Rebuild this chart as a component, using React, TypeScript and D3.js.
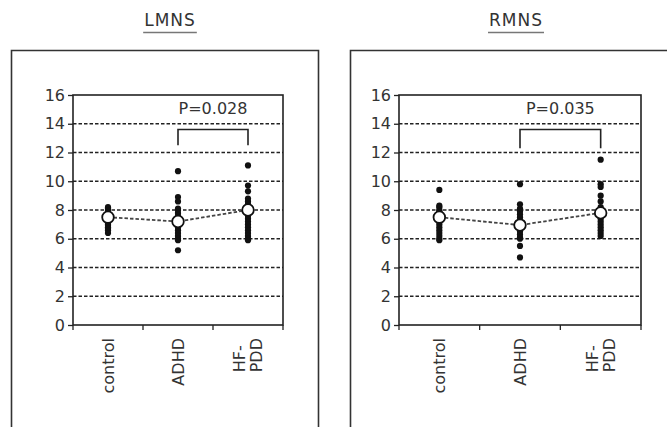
import { useEffect, useRef } from 'react';
import * as d3 from 'd3';

// groups and axis ticks
const groups = ['control', 'ADHD', 'HF-PDD'];
const yTicks = [0, 2, 4, 6, 8, 10, 12, 14, 16];
const gridTicks = [2, 4, 6, 8, 10, 12, 14];

// individual values
const lmnsControl = [8.2, 8.1, 8.0, 7.9, 7.8, 7.7, 7.6, 7.5, 7.3, 7.2, 7.1, 7.0, 6.9, 6.8, 6.7, 6.6, 6.4];
const lmnsAdhd = [10.7, 8.9, 8.6, 8.1, 8.0, 7.8, 7.6, 7.5, 7.3, 7.1, 7.0, 6.8, 6.6, 6.4, 6.2, 6.0, 5.9, 5.2];
const lmnsHfpdd = [11.1, 9.7, 9.3, 8.8, 8.6, 8.4, 8.2, 8.0, 7.8, 7.6, 7.4, 7.2, 7.0, 6.8, 6.6, 6.4, 6.2, 6.0, 5.9];
const lmnsMeans = [7.5, 7.2, 8.0];

const rmnsControl = [9.4, 8.3, 8.2, 8.0, 7.9, 7.8, 7.6, 7.4, 7.2, 7.0, 6.8, 6.6, 6.4, 6.2, 6.0, 5.9];
const rmnsAdhd = [9.8, 8.4, 8.1, 7.9, 7.7, 7.5, 7.3, 7.1, 6.9, 6.7, 6.5, 6.3, 6.1, 6.0, 5.5, 4.7];
const rmnsHfpdd = [11.5, 9.8, 9.6, 9.0, 8.6, 8.2, 8.0, 7.8, 7.6, 7.4, 7.2, 7.0, 6.8, 6.6, 6.4, 6.2];
const rmnsMeans = [7.5, 6.95, 7.8];

// significance brackets (ADHD vs HF-PDD)
const lmnsBracket = [12.5, 13.6];
const rmnsBracket = [12.3, 13.6];
const lmnsP = 'P=0.028';
const rmnsP = 'P=0.035';

const W = 667;
const H = 427;
const FONT = '"DejaVu Sans", sans-serif';
const INK = '#222';

function drawPanel(svg, cfg) {
  const { title, box, plot, values, means, bracket, pText } = cfg;
  const g = svg.append('g');

  const x = d3.scaleBand().domain(groups).range(plot).padding(0);
  const y = d3.scaleLinear().domain([0, 16]).range([325, 95]);
  const cx = (grp) => x(grp) + x.bandwidth() / 2;

  // outer frame (runs off the bottom)
  g.append('path')
    .attr('d', `M${box[0]},${H + 10}V${50.5}H${box[1]}V${H + 10}`)
    .attr('fill', 'none')
    .attr('stroke', '#333')
    .attr('stroke-width', 1.6);

  // title with underline
  const t = g.append('text')
    .attr('x', cfg.titleX)
    .attr('y', 26)
    .attr('text-anchor', 'middle')
    .attr('font-family', FONT)
    .attr('font-size', 17)
    .attr('letter-spacing', 1)
    .attr('fill', '#333')
    .text(title);
  const tw = t.node().getComputedTextLength();
  g.append('line')
    .attr('x1', cfg.titleX - tw / 2 - 1)
    .attr('x2', cfg.titleX + tw / 2 + 1)
    .attr('y1', 32.5)
    .attr('y2', 32.5)
    .attr('stroke', '#777')
    .attr('stroke-width', 1.6);

  // dashed grid
  g.append('g')
    .selectAll('line')
    .data(gridTicks)
    .join('line')
    .attr('x1', plot[0])
    .attr('x2', plot[1])
    .attr('y1', (d) => y(d))
    .attr('y2', (d) => y(d))
    .attr('stroke', INK)
    .attr('stroke-width', 1.6)
    .attr('stroke-dasharray', '3.5,2');

  // plot frame
  g.append('rect')
    .attr('x', plot[0])
    .attr('y', y(16))
    .attr('width', plot[1] - plot[0])
    .attr('height', y(0) - y(16))
    .attr('fill', 'none')
    .attr('stroke', INK)
    .attr('stroke-width', 1.6);

  // y axis
  g.append('g')
    .attr('transform', `translate(${plot[0]},0)`)
    .call(d3.axisLeft(y).tickValues(yTicks).tickSize(5).tickSizeOuter(0).tickPadding(3))
    .call((a) => a.select('.domain').remove())
    .call((a) => a.selectAll('line').attr('stroke', INK).attr('stroke-width', 1.3))
    .call((a) => a.selectAll('text')
      .attr('font-family', FONT)
      .attr('font-size', 16)
      .attr('fill', '#333'));

  // x ticks at band edges
  const edges = groups.map((d) => x(d)).concat([plot[1]]);
  g.append('g')
    .selectAll('line')
    .data(edges)
    .join('line')
    .attr('x1', (d) => d)
    .attr('x2', (d) => d)
    .attr('y1', y(0))
    .attr('y2', y(0) + 5)
    .attr('stroke', INK)
    .attr('stroke-width', 1.3);

  // rotated category labels
  const labelTop = y(0) + 13;
  groups.forEach((grp) => {
    const lines = grp.split(/(?<=-)/);
    const lg = g.append('g')
      .attr('transform', `translate(${cx(grp)},${labelTop}) rotate(-90)`);
    const lh = 17;
    const txts = lines.map((ln, i) => lg.append('text')
      .attr('y', (i - (lines.length - 1) / 2) * lh)
      .attr('dy', '0.35em')
      .attr('font-family', FONT)
      .attr('font-size', 16)
      .attr('fill', '#333')
      .text(ln));
    if (lines.length === 1) {
      txts[0].attr('text-anchor', 'end');
    } else {
      const maxLen = d3.max(txts, (s) => s.node().getComputedTextLength());
      txts.forEach((s) => s.attr('x', -maxLen).attr('text-anchor', 'start'));
    }
  });

  // individual points
  groups.forEach((grp, i) => {
    g.append('g')
      .selectAll('circle')
      .data(values[i])
      .join('circle')
      .attr('cx', cx(grp))
      .attr('cy', (d) => y(d))
      .attr('r', 3.1)
      .attr('fill', '#111');
  });

  // dashed line linking the means
  const line = d3.line()
    .x((d, i) => cx(groups[i]))
    .y((d) => y(d));
  g.append('path')
    .datum(means)
    .attr('d', line)
    .attr('fill', 'none')
    .attr('stroke', '#444')
    .attr('stroke-width', 1.8)
    .attr('stroke-dasharray', '3.5,2');

  g.append('g')
    .selectAll('circle')
    .data(means)
    .join('circle')
    .attr('cx', (d, i) => cx(groups[i]))
    .attr('cy', (d) => y(d))
    .attr('r', 5.8)
    .attr('fill', '#fff')
    .attr('stroke', '#111')
    .attr('stroke-width', 1.8);

  // significance bracket
  const bx0 = cx(groups[1]);
  const bx1 = cx(groups[2]);
  g.append('path')
    .attr('d', `M${bx0},${y(bracket[0])}V${y(bracket[1])}H${bx1}V${y(bracket[0])}`)
    .attr('fill', 'none')
    .attr('stroke', INK)
    .attr('stroke-width', 1.6);
  g.append('text')
    .attr('x', (bx0 + bx1) / 2)
    .attr('y', y(14.65))
    .attr('text-anchor', 'middle')
    .attr('font-family', FONT)
    .attr('font-size', 16)
    .attr('fill', '#333')
    .text(pText);
}

export default function App() {
  const svgRef = useRef(null);

  useEffect(() => {
    const svg = d3.select(svgRef.current);
    svg.selectAll('*').remove();

    svg.append('rect').attr('width', W).attr('height', H).attr('fill', '#fff');

    drawPanel(svg, {
      title: 'LMNS',
      titleX: 170,
      box: [11.5, 318.5],
      plot: [73, 283],
      values: [lmnsControl, lmnsAdhd, lmnsHfpdd],
      means: lmnsMeans,
      bracket: lmnsBracket,
      pText: lmnsP,
    });

    drawPanel(svg, {
      title: 'RMNS',
      titleX: 516,
      box: [350.5, W + 20],
      plot: [399, 641],
      values: [rmnsControl, rmnsAdhd, rmnsHfpdd],
      means: rmnsMeans,
      bracket: rmnsBracket,
      pText: rmnsP,
    });
  }, []);

  return (
    <div style={{ position: 'absolute', left: 0, top: 0 }}>
      <svg ref={svgRef} width={W} height={H} style={{ display: 'block' }} />
    </div>
  );
}
